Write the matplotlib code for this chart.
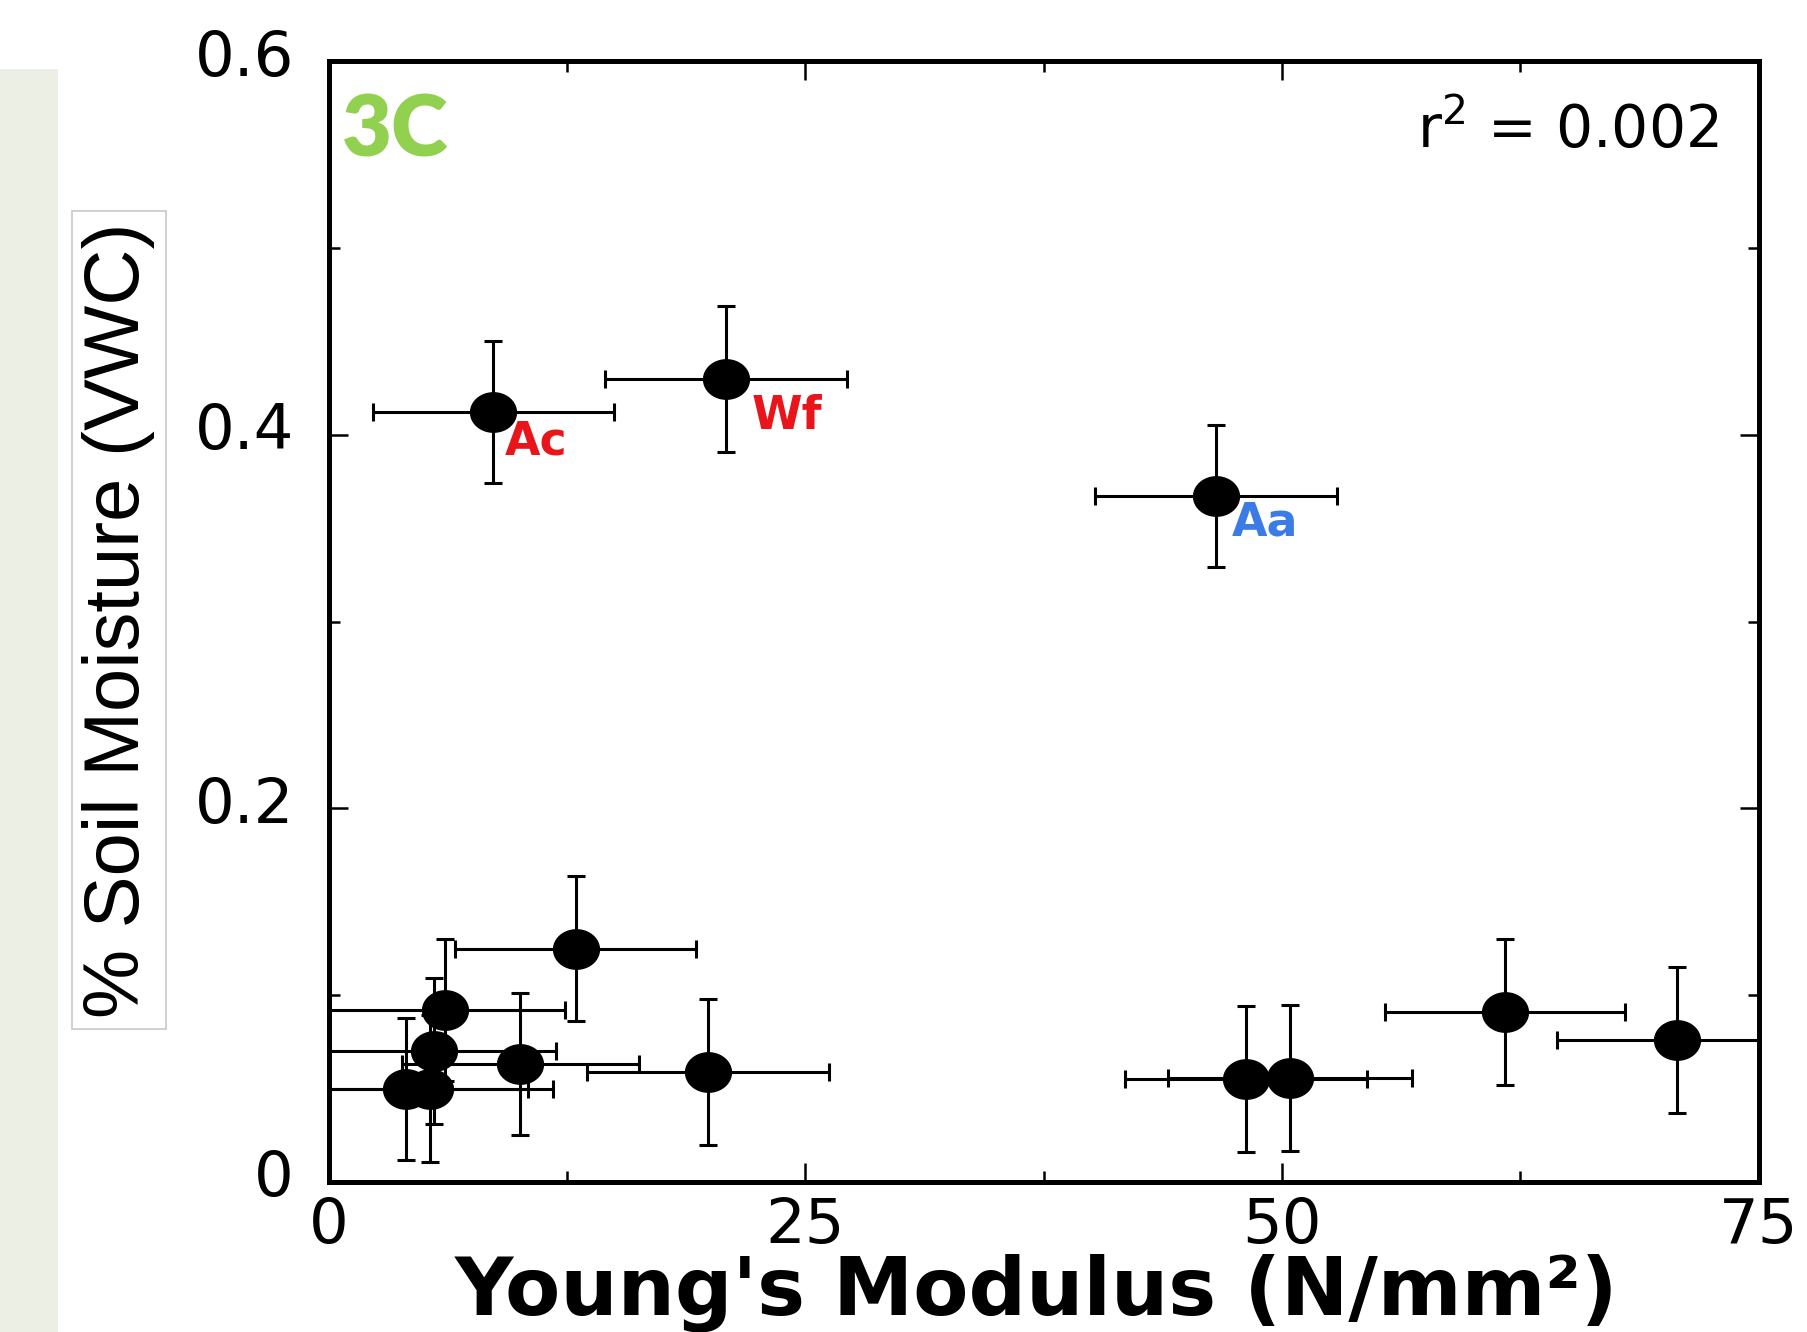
import matplotlib
matplotlib.use('Agg')
import matplotlib.pyplot as plt
import matplotlib.transforms as mtransforms
from matplotlib.patches import Rectangle
from matplotlib.path import Path
import numpy as np


# Data
species = ['Ac', 'Wf', 'Aa', '', '', '', '', '', '', '', '', '', '', '']
label_colors = ['#E8161B', '#E8161B', '#3A7BE6'] + ['black'] * 11
modulus = [8.63, 20.85, 46.54, 12.96, 6.1, 5.54, 10.05, 4.07, 5.33, 19.9, 48.09, 50.43, 61.69, 70.7]
moisture = [0.412, 0.430, 0.367, 0.125, 0.092, 0.070, 0.063, 0.050, 0.050, 0.059, 0.055, 0.0555, 0.091, 0.076]
modulus_err = [6.33, 6.36, 6.36, 6.33, 6.3, 6.4, 6.2, 6.4, 6.44, 6.36, 6.35, 6.4, 6.3, 6.3]
moisture_err = [0.038, 0.039, 0.038, 0.039, 0.038, 0.039, 0.038, 0.038, 0.0395, 0.039, 0.039, 0.039, 0.039, 0.039]
r2_text = 'r$^2$ = 0.002'
panel_tag = '3C'

x_ticks = [0, 25, 50, 75]
y_ticks = [0, 0.2, 0.4, 0.6]
y_tick_labels = ['0', '0.2', '0.4', '0.6']

# offsets (points) of the species labels from their markers
label_offsets = [(8, -30), (18, -36), (11, -28)]


fig = plt.figure(figsize=(18.08, 13.32), dpi=100)

# slide-like background strip and boxed y label
fig.patches.append(Rectangle((0, 0), 0.032, 0.948, transform=fig.transFigure,
                             facecolor='#ECF0E4', edgecolor='none', zorder=0))
fig.text(0.0658, 0.5345, '% Soil Moisture (VWC)', rotation=90, ha='center', va='center',
         fontsize=56, family='Liberation Sans',
         bbox=dict(boxstyle='square,pad=0.14', facecolor='white', edgecolor='#C8C8C8', linewidth=1.2))

ax = fig.add_axes([0.1818, 0.1126, 0.7909, 0.8415])

# slightly flattened round marker, as in the original
t = np.linspace(0, 2 * np.pi, 60)
ellipse = Path(np.column_stack([np.cos(t), 0.86 * np.sin(t)]), closed=True)

ax.errorbar(modulus, moisture, xerr=modulus_err, yerr=moisture_err,
            fmt='none', ecolor='black', elinewidth=2.2, capsize=6.5, capthick=2.2, zorder=2)
ax.plot(modulus, moisture, linestyle='none', marker=ellipse, markersize=33,
        color='black', zorder=3)

for i, name in enumerate(species):
    if not name:
        continue
    ax.annotate(name, (modulus[i], moisture[i]), xytext=label_offsets[i],
                textcoords='offset points', ha='left', va='baseline',
                fontsize=33, fontweight='bold', color=label_colors[i], zorder=4)

ax.text(0.9716, 0.9377, r2_text, transform=ax.transAxes, ha='right', va='center',
        fontsize=42, family='DejaVu Sans')
ax.text(0.0093, 0.9153, panel_tag, transform=ax.transAxes, ha='left', va='baseline',
        fontsize=62, fontweight='heavy', family='Lato', color='#92D050')

ax.set_xlim(0, 75)
ax.set_ylim(0, 0.6)
ax.set_xticks(x_ticks)
ax.set_xticklabels([str(v) for v in x_ticks])
ax.set_yticks(y_ticks)
ax.set_yticklabels(y_tick_labels)
ax.set_xticks([12.5, 37.5, 62.5], minor=True)
ax.set_yticks([0.1, 0.3, 0.5], minor=True)

ax.tick_params(which='both', direction='in', top=True, right=True, width=1.8)
ax.tick_params(which='major', length=14, labelsize=45)
ax.tick_params(axis='x', which='major', pad=10)
ax.tick_params(axis='y', which='major', pad=25)
ax.tick_params(which='minor', length=8)
for s in ax.spines.values():
    s.set_linewidth(3.6)

shift = mtransforms.ScaledTranslation(0, 6.5 / 72, fig.dpi_scale_trans)
for lab in ax.get_yticklabels():
    lab.set_transform(lab.get_transform() + shift)

ax.set_xlabel("Young's Modulus (N/mm²)", fontsize=58, fontweight='bold', va='baseline')
ax.xaxis.set_label_coords(0.495, -0.1178)

fig.savefig('out.png', dpi=100)
